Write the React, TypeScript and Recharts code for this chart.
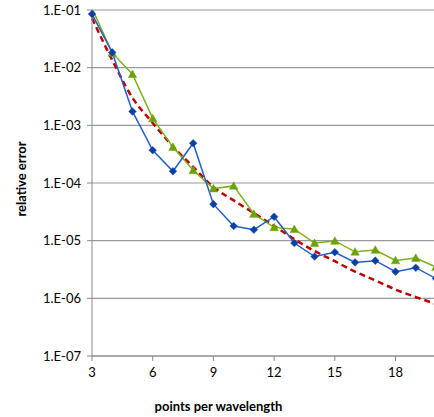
import React from 'react';
import { LineChart, Line, XAxis, YAxis, CartesianGrid, Label } from 'recharts';

const xValues = [3, 4, 5, 6, 7, 8, 9, 10, 11, 12, 13, 14, 15, 16, 17, 18, 19, 20];
const blueValues = [0.085, 0.0184, 0.00174, 3.7e-4, 1.6e-4, 4.9e-4, 4.3e-5, 1.8e-5, 1.55e-5, 2.6e-5, 9.1e-6, 5.3e-6, 6.3e-6, 4.2e-6, 4.5e-6, 2.9e-6, 3.4e-6, 2.2e-6];
const greenValues = [0.107, 0.018, 0.0077, 1.32e-3, 4.2e-4, 1.66e-4, 8.0e-5, 8.9e-5, 2.9e-5, 1.7e-5, 1.58e-5, 9.1e-6, 9.9e-6, 6.4e-6, 6.9e-6, 4.55e-6, 5.0e-6, 3.5e-6];
const redValues = [0.072, 0.0135, 3.0e-3, 1.1e-3, 4.3e-4, 1.9e-4, 8.5e-5, 5.0e-5, 3.0e-5, 1.8e-5, 1.06e-5, 6.6e-6, 4.4e-6, 2.9e-6, 2.05e-6, 1.42e-6, 1.05e-6, 8.0e-7];
const yTicks = [1e-7, 1e-6, 1e-5, 1e-4, 1e-3, 1e-2, 1e-1];
const xTicks = [3, 6, 9, 12, 15, 18];
const yMin = 1e-7;
const yMax = 1e-1;

const data = xValues.map((x, i) => ({ x, blue: blueValues[i], green: greenValues[i], red: redValues[i] }));

const FONT = 'Lato, "Open Sans", "Liberation Sans", sans-serif';

const fmtY = (v: number) => {
  const e = Math.round(Math.log10(v));
  const s = Math.abs(e).toString().padStart(2, '0');
  return `1.E${e < 0 ? '-' : '+'}${s}`;
};

const Diamond = (props: any) => {
  const { cx, cy, index, value } = props;
  if (cx == null || cy == null || value > yMax) return <g key={`d${index}`} />;
  const r = 3.8;
  return (
    <path key={`d${index}`} d={`M${cx},${cy - r}L${cx + r},${cy}L${cx},${cy + r}L${cx - r},${cy}Z`} fill="#0a3fa8" stroke="#0a3fa8" strokeWidth={0.5} />
  );
};

const Triangle = (props: any) => {
  const { cx, cy, index, value } = props;
  if (cx == null || cy == null || value > yMax) return <g key={`t${index}`} />;
  const r = 4.2;
  return (
    <path key={`t${index}`} d={`M${cx},${cy - r}L${cx + r},${cy + r * 0.8}L${cx - r},${cy + r * 0.8}Z`} fill="#6ea10b" stroke="#6ea10b" strokeWidth={0.5} />
  );
};

const XLabel = (props: any) => {
  const vb = props.viewBox || {};
  return (
    <text x={vb.x + vb.width / 2 - 45.5} y={vb.y + 55} textAnchor="middle" fontFamily={FONT} fontSize={13} fontWeight="bold" fill="#000">
      points per wavelength
    </text>
  );
};

const YLabel = (props: any) => {
  const vb = props.viewBox || {};
  const cx = vb.x + 25.5;
  const cy = vb.y + vb.height / 2 - 4;
  return (
    <text x={cx} y={cy} transform={`rotate(-90, ${cx}, ${cy})`} textAnchor="middle" fontFamily={FONT} fontSize={13} fontWeight="bold" fill="#000">
      relative error
    </text>
  );
};

export default function App() {
  return (
    <div style={{ position: 'absolute', left: 0, top: 0, width: 434, height: 417, overflow: 'hidden', background: '#fff' }}>
      <LineChart width={440} height={417} data={data} margin={{ top: 10, right: 4, left: 0, bottom: 0 }}>
        <CartesianGrid horizontal={true} vertical={false} stroke="#999" strokeWidth={1.2} />
        <XAxis
          dataKey="x"
          type="number"
          domain={[3, 20]}
          ticks={xTicks}
          height={61}
          tickSize={5}
          tickMargin={7}
          stroke="#888"
          tick={{ fill: '#000', fontSize: 13, fontFamily: FONT }}
        >
          <Label content={<XLabel />} />
        </XAxis>
        <YAxis
          scale="log"
          domain={[yMin, yMax]}
          ticks={yTicks}
          allowDataOverflow
          width={92}
          tickSize={5}
          tickMargin={6}
          stroke="#888"
          tickFormatter={fmtY}
          tick={{ fill: '#000', fontSize: 13, fontFamily: FONT }}
        >
          <Label content={<YLabel />} />
        </YAxis>
        <Line dataKey="red" type="monotone" stroke="#c00000" strokeWidth={2.5} strokeDasharray="6 4" dot={false} isAnimationActive={false} />
        <Line dataKey="green" type="linear" stroke="#7ab317" strokeWidth={1.5} dot={Triangle} isAnimationActive={false} />
        <Line dataKey="blue" type="linear" stroke="#1f5fc8" strokeWidth={1.5} dot={Diamond} isAnimationActive={false} />
      </LineChart>
    </div>
  );
}
